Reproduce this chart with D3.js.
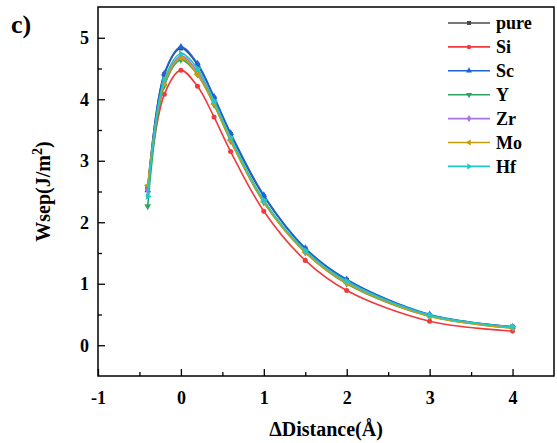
<!DOCTYPE html>
<html>
<head>
<meta charset="utf-8">
<script src="https://cdn.jsdelivr.net/npm/d3@7"></script>
<style>
  body { margin: 0; background: #fff; }
  text { font-family: "Liberation Serif", "Times New Roman", serif; font-weight: bold; fill: #000; }
</style>
</head>
<body>
<div id="chart"></div>
<script>
// ΔDistance values (Å)
const distance = [-0.4, -0.2, 0, 0.2, 0.4, 0.6, 1, 1.5, 2, 3, 4];

const seriesNames = ['pure', 'Si', 'Sc', 'Y', 'Zr', 'Mo', 'Hf'];
const pure = [2.56, 4.40, 4.83, 4.56, 4.02, 3.43, 2.42, 1.57, 1.06, 0.49, 0.30];
const Si   = [2.55, 4.08, 4.47, 4.21, 3.71, 3.15, 2.18, 1.38, 0.89, 0.39, 0.23];
const Sc   = [2.52, 4.42, 4.85, 4.58, 4.04, 3.45, 2.44, 1.58, 1.07, 0.50, 0.30];
const Y    = [2.26, 4.22, 4.64, 4.40, 3.91, 3.32, 2.32, 1.51, 1.00, 0.47, 0.28];
const Zr   = [2.52, 4.28, 4.70, 4.45, 3.95, 3.35, 2.34, 1.52, 1.02, 0.48, 0.29];
const Mo   = [2.60, 4.25, 4.67, 4.40, 3.92, 3.33, 2.33, 1.51, 1.01, 0.47, 0.28];
const Hf   = [2.42, 4.32, 4.74, 4.50, 3.97, 3.38, 2.36, 1.54, 1.04, 0.49, 0.30];
const values = [pure, Si, Sc, Y, Zr, Mo, Hf];

const colors = ['#4a4a4a', '#ef3a3e', '#1f63d6', '#2ea563', '#a874e4', '#c89f0a', '#22c8c8'];
const symbols = [d3.symbolSquare, d3.symbolCircle, d3.symbolTriangle, d3.symbolTriangle,
                 d3.symbolDiamond, d3.symbolTriangle, d3.symbolTriangle];
const rotations = [0, 0, 0, 180, 0, -90, 90];

const xTicks = [-1, 0, 1, 2, 3, 4];
const yTicks = [0, 1, 2, 3, 4, 5];

const width = 557, height = 443;
const margin = {left: 98, right: 3, top: 7, bottom: 67};
const serif = '"Liberation Serif", "Times New Roman", serif';

const svg = d3.select('#chart').append('svg')
              .attr('width', width)
              .attr('height', height);

const x = d3.scaleLinear()
            .domain([-1, 4.5])
            .range([margin.left, width - margin.right]);
const y = d3.scaleLinear()
            .domain([-0.5, 5.5])
            .range([height - margin.bottom, margin.top]);

const line = d3.line()
               .x((d, i) => x(distance[i]))
               .y(d => y(d))
               .curve(d3.curveCatmullRom.alpha(0.5));

// series
values.forEach((vals, k) => {
    const g = svg.append('g').attr('class', 'series');
    g.append('path')
     .datum(vals)
     .attr('fill', 'none')
     .attr('stroke', colors[k])
     .attr('stroke-width', 1.6)
     .attr('d', line);
    g.selectAll('path.mark')
     .data(vals)
     .enter().append('path')
     .attr('class', 'mark')
     .attr('d', d3.symbol().type(symbols[k]).size(20))
     .attr('fill', colors[k])
     .attr('transform', (d, i) => `translate(${x(distance[i])},${y(d)}) rotate(${rotations[k]})`);
});

// axes, ticks pointing inward
const fmt = d => String(d);   // plain hyphen for negatives, like the original
const xAxis = svg.append('g')
                 .attr('transform', `translate(0,${height - margin.bottom})`)
                 .call(d3.axisBottom(x).tickValues(xTicks).tickSizeInner(-7).tickSizeOuter(0).tickFormat(fmt));
const xMinor = svg.append('g')
                  .attr('transform', `translate(0,${height - margin.bottom})`)
                  .call(d3.axisBottom(x).tickValues([-0.5, 0.5, 1.5, 2.5, 3.5]).tickSizeInner(-4).tickSizeOuter(0).tickFormat(''));
const yAxis = svg.append('g')
                 .attr('transform', `translate(${margin.left},0)`)
                 .call(d3.axisLeft(y).tickValues(yTicks).tickSizeInner(-7).tickSizeOuter(0).tickFormat(fmt));
const yMinor = svg.append('g')
                  .attr('transform', `translate(${margin.left},0)`)
                  .call(d3.axisLeft(y).tickValues([0.5, 1.5, 2.5, 3.5, 4.5]).tickSizeInner(-4).tickSizeOuter(0).tickFormat(''));

[xAxis, xMinor, yAxis, yMinor].forEach(a => {
    a.attr('font-family', serif);
    a.select('.domain').remove();
    a.selectAll('line').attr('stroke', '#000').attr('stroke-width', 1.3);
});
xAxis.selectAll('text')
     .attr('y', 15)
     .attr('dy', '0.71em')
     .style('font-size', '18px');
yAxis.selectAll('text')
     .attr('x', -9)
     .style('font-size', '18px');

// frame
svg.append('rect')
   .attr('x', margin.left)
   .attr('y', margin.top)
   .attr('width', width - margin.left - margin.right)
   .attr('height', height - margin.top - margin.bottom)
   .attr('fill', 'none')
   .attr('stroke', '#000')
   .attr('stroke-width', 1.5);

// axis titles
svg.append('text')
   .attr('x', (margin.left + width - margin.right) / 2)
   .attr('y', 436)
   .attr('text-anchor', 'middle')
   .style('font-size', '20px')
   .text('ΔDistance(Å)');

const yTitle = svg.append('text')
                  .attr('transform', `translate(50,${y(2.5)}) rotate(-90)`)
                  .attr('text-anchor', 'middle')
                  .style('font-size', '20px');
yTitle.append('tspan').text('Wsep(J/m');
yTitle.append('tspan').attr('dy', -8).style('font-size', '14px').text('2');
yTitle.append('tspan').attr('dy', 8).text(')');

svg.append('text')
   .attr('x', 11)
   .attr('y', 33)
   .style('font-size', '26px')
   .text('c)');

// legend
const legend = svg.append('g');
seriesNames.forEach((name, k) => {
    const ly = 23 + k * 23.9;
    legend.append('line')
          .attr('x1', 448).attr('x2', 490)
          .attr('y1', ly).attr('y2', ly)
          .attr('stroke', colors[k])
          .attr('stroke-width', 1.6);
    legend.append('path')
          .attr('d', d3.symbol().type(symbols[k]).size(16))
          .attr('fill', colors[k])
          .attr('transform', `translate(469,${ly}) rotate(${rotations[k]})`);
    legend.append('text')
          .attr('x', 496)
          .attr('y', ly)
          .attr('dy', '0.35em')
          .style('font-size', '18px')
          .text(name);
});
</script>
</body>
</html>
